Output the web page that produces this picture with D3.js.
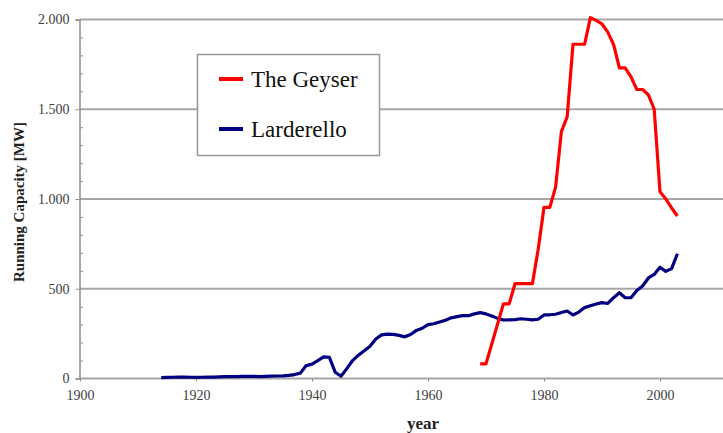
<!DOCTYPE html>
<html><head><meta charset="utf-8">
<script src="https://cdn.jsdelivr.net/npm/d3@7"></script>
<style>body{margin:0;background:#fff}svg{display:block}</style>
</head><body>
<svg id="c" width="723" height="433"></svg>
<script>
const larderelloYears = d3.range(1914, 2004);
const larderelloValues = [5,6,7,8,8,7,6,7,8,8,9,10,10,11,12,12,12,11,12,13,14,15,17,22,30,72,80,100,120,118,35,13,55,100,130,155,180,220,243,247,246,240,232,245,268,280,300,305,315,325,338,345,350,350,360,367,360,348,335,326,327,328,333,330,327,330,354,355,358,368,376,354,370,395,405,415,423,418,450,478,450,450,490,515,560,580,620,597,612,695];
const geyserYears = d3.range(1969, 2004);
const geyserValues = [82,82,193,304,416,416,528,528,528,528,720,953,953,1066,1375,1459,1862,1862,1862,2010,1995,1975,1930,1860,1730,1730,1680,1610,1610,1580,1500,1040,1000,950,905];
const xTicks = [1900,1920,1940,1960,1980,2000];
const yTicks = [0,500,1000,1500,2000];
const yTickLabels = ["0","500","1.000","1.500","2.000"];
const seriesNames = ["The Geyser","Larderello"];
const seriesColors = ["#ff0000","#000080"];

const svg = d3.select("#c");
const x = d3.scaleLinear().domain([1900,2020]).range([80,776]);
const y = d3.scaleLinear().domain([0,2000]).range([378.5,19.5]);
const font = "'Liberation Serif','Times New Roman',serif";

// grid
svg.append("g").selectAll("line").data(yTicks.filter(d=>d>0)).join("line")
  .attr("x1",80).attr("x2",723).attr("y1",d=>y(d)).attr("y2",d=>y(d))
  .attr("stroke","#a6a6a6").attr("stroke-width",2);

// y axis
const ya = svg.append("g").attr("transform","translate(79.5,0)")
  .call(d3.axisLeft(y).tickValues(yTicks).tickFormat((d,i)=>yTickLabels[i]).tickSize(4).tickPadding(6));
ya.select(".domain").attr("stroke","#8c8c8c").attr("stroke-width",1.5);
ya.selectAll(".tick line").attr("stroke","#8c8c8c");
ya.selectAll("text").attr("font-family",font).attr("font-size",14).attr("fill","#404040");
// minor ticks
svg.append("g").selectAll("line").data(d3.range(100,2000,100).filter(d=>d%500)).join("line")
  .attr("x1",80.5).attr("x2",83).attr("y1",d=>y(d)+0.5).attr("y2",d=>y(d)+0.5)
  .attr("stroke","#8c8c8c").attr("stroke-width",1);

// x axis
const xa = svg.append("g").attr("transform",`translate(0,${y(0)})`)
  .call(d3.axisBottom(x).tickValues(xTicks).tickFormat(d3.format("d")).tickSize(3).tickPadding(9));
xa.select(".domain").attr("stroke","#a6a6a6").attr("stroke-width",2).attr("d","M80,0H723");
xa.selectAll(".tick line").attr("stroke","#8c8c8c");
xa.selectAll("text").attr("font-family",font).attr("font-size",14).attr("fill","#404040");

// titles
svg.append("text").attr("x",423).attr("y",429).attr("text-anchor","middle")
  .attr("font-family",font).attr("font-weight","bold").attr("font-size",17).attr("fill","#222").text("year");
svg.append("text").attr("transform","translate(24,202) rotate(-90)").attr("text-anchor","middle")
  .attr("font-family",font).attr("font-weight","bold").attr("font-size",15).attr("fill","#222").text("Running Capacity [MW]");

// lines
const line = d3.line().x(d=>x(d[0])).y(d=>y(d[1]));
svg.append("path").datum(larderelloYears.map((d,i)=>[d,larderelloValues[i]]))
  .attr("d",line).attr("fill","none").attr("stroke",seriesColors[1]).attr("stroke-width",3.2).attr("stroke-linejoin","round");
svg.append("path").datum(geyserYears.map((d,i)=>[d,geyserValues[i]]))
  .attr("d",line).attr("fill","none").attr("stroke",seriesColors[0]).attr("stroke-width",3.2).attr("stroke-linejoin","round");

// legend
const lg = svg.append("g");
lg.append("rect").attr("x",197.5).attr("y",54.5).attr("width",182).attr("height",101)
  .attr("fill","#fff").attr("stroke","#999").attr("stroke-width",1.5);
seriesNames.forEach((n,i)=>{
  const cy = 79 + i*50;
  lg.append("line").attr("x1",219).attr("x2",243).attr("y1",cy).attr("y2",cy)
    .attr("stroke",seriesColors[i]).attr("stroke-width",4);
  lg.append("text").attr("x",251).attr("y",cy+8).attr("font-family",font).attr("font-size",23)
    .attr("fill","#111").text(n);
});
</script>
</body></html>
